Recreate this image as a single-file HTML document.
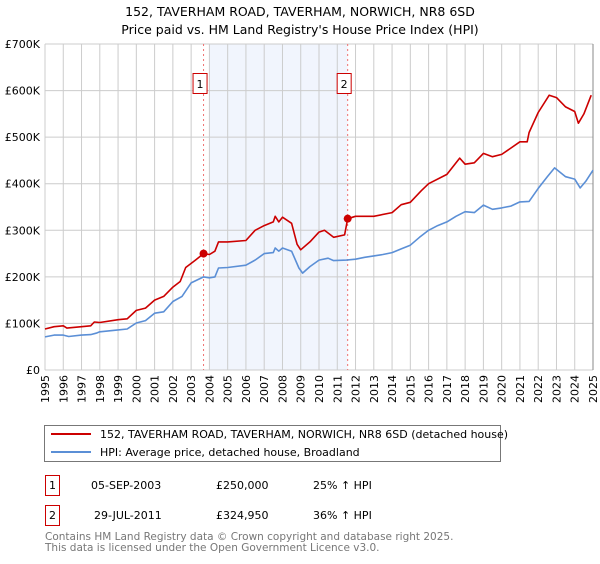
<!DOCTYPE html>
<html><head><meta charset="utf-8"><style>
body{margin:0;background:#fff;width:600px;height:560px;overflow:hidden;font-family:"DejaVu Sans","Liberation Sans",sans-serif;}
</style></head><body>
<svg id="c" width="600" height="560" xmlns="http://www.w3.org/2000/svg" style="font-family:'DejaVu Sans','Liberation Sans',sans-serif">
<text x="300" y="16" font-size="12.5" text-anchor="middle">152, TAVERHAM ROAD, TAVERHAM, NORWICH, NR8 6SD</text>
<text x="300" y="34" font-size="12.5" text-anchor="middle">Price paid vs. HM Land Registry's House Price Index (HPI)</text>
<g id="plot"></g>
<rect x="44.5" y="425.5" width="456" height="36" fill="#fff" stroke="#777"/>
<line x1="51" y1="434" x2="91" y2="434" stroke="#cc0000" stroke-width="2"/>
<text x="100" y="438" font-size="11">152, TAVERHAM ROAD, TAVERHAM, NORWICH, NR8 6SD (detached house)</text>
<line x1="51" y1="452" x2="91" y2="452" stroke="#5b8fd6" stroke-width="2"/>
<text x="100" y="456" font-size="11">HPI: Average price, detached house, Broadland</text>
<g font-size="11">
<rect x="45.5" y="475.5" width="14" height="20" fill="#fff" stroke="#cc0000"/>
<text x="52.5" y="489" text-anchor="middle">1</text>
<text x="91" y="489">05-SEP-2003</text>
<text x="216" y="489">£250,000</text>
<text x="313" y="489">25% ↑ HPI</text>
<rect x="45.5" y="505.5" width="14" height="20" fill="#fff" stroke="#cc0000"/>
<text x="52.5" y="519" text-anchor="middle">2</text>
<text x="94" y="519">29-JUL-2011</text>
<text x="216" y="519">£324,950</text>
<text x="313" y="519">36% ↑ HPI</text>
</g>
<text x="45" y="540" font-size="10.5" fill="#777">Contains HM Land Registry data © Crown copyright and database right 2025.</text>
<text x="45" y="551" font-size="10.5" fill="#777">This data is licensed under the Open Government Licence v3.0.</text>
</svg>
<script>
const yTicks=[0,100000,200000,300000,400000,500000,600000,700000];
const yTickLabels=["£0","£100K","£200K","£300K","£400K","£500K","£600K","£700K"];
const years=[1995,1996,1997,1998,1999,2000,2001,2002,2003,2004,2005,2006,2007,2008,2009,2010,2011,2012,2013,2014,2015,2016,2017,2018,2019,2020,2021,2022,2023,2024,2025];
const hpiT=[1995,1995.5,1996,1996.3,1997,1997.5,1997.8,1998,1999,1999.5,2000,2000.5,2001,2001.5,2002,2002.5,2003,2003.68,2004,2004.3,2004.5,2005,2006,2006.5,2007,2007.5,2007.6,2007.8,2008,2008.5,2008.9,2009.1,2009.5,2010,2010.5,2010.8,2011.5,2012,2012.5,2013,2013.5,2014,2014.5,2015,2015.5,2016,2016.5,2017,2017.5,2018,2018.5,2019,2019.5,2020,2020.5,2021,2021.5,2022,2022.5,2022.9,2023.5,2024,2024.3,2024.6,2025];
const hpiV=[71000,75000,75000,72000,75000,76000,79000,82000,86000,88000,101000,106000,122000,125000,147000,158000,187000,200000,198000,200000,219000,220000,225000,236000,250000,252000,262000,255000,262000,255000,219000,208000,222000,236000,240000,235000,236000,238000,242000,245000,248000,252000,260000,268000,285000,300000,310000,318000,330000,340000,338000,354000,345000,348000,352000,361000,362000,390000,415000,434000,415000,410000,391000,405000,429000];
const priceT=[1995,1995.5,1996,1996.2,1997,1997.5,1997.7,1998,1999,1999.5,2000,2000.5,2001,2001.5,2002,2002.4,2002.7,2003.2,2003.68,2004,2004.3,2004.5,2005,2006,2006.5,2007,2007.5,2007.6,2007.8,2008,2008.5,2008.8,2009,2009.5,2010,2010.3,2010.8,2011.4,2011.57,2012,2013,2014,2014.5,2015,2015.6,2016,2017,2017.7,2018,2018.5,2019,2019.5,2020,2021,2021.4,2021.5,2022,2022.6,2023,2023.5,2024,2024.2,2024.5,2024.9];
const priceV=[88000,93000,95000,90000,93000,95000,103000,102000,108000,110000,128000,133000,150000,158000,178000,190000,220000,235000,250000,248000,255000,275000,275000,278000,300000,310000,318000,330000,318000,328000,315000,270000,258000,275000,296000,300000,285000,290000,324950,330000,330000,338000,355000,360000,385000,400000,420000,455000,442000,445000,465000,458000,463000,490000,490000,510000,553000,590000,585000,565000,555000,530000,550000,590000];
const sales=[[2003.68,250000],[2011.57,324950]];
const X0=45,X1=593,Y0=370,Y1=44;
const xs=t=>X0+(t-1995)/30*(X1-X0);
const ys=v=>Y0-v/700000*(Y0-Y1);
const NS="http://www.w3.org/2000/svg";
const g=document.getElementById('plot');
function mk(tag,attrs){const e=document.createElementNS(NS,tag);for(const k in attrs)e.setAttribute(k,attrs[k]);g.appendChild(e);return e;}
let e=mk('rect',{x:xs(2004),y:Y1,width:xs(sales[1][0])-xs(2004),height:Y0-Y1,fill:'#eef3fd',opacity:0.8});


years.forEach(y=>{const l=mk('line',{x1:xs(y),x2:xs(y),y1:Y1,y2:Y0,stroke:'#ccc'});


const t=mk('text',{x:0,y:0,'font-size':11,'text-anchor':'end',transform:`translate(${xs(y)+4},${Y0+5}) rotate(-90)`});t.textContent=y;

});
yTicks.forEach((v,i)=>{const l=mk('line',{x1:X0,x2:X1,y1:ys(v),y2:ys(v),stroke:'#ccc'});


const t=mk('text',{x:X0-5,y:ys(v)+4,'font-size':11,'text-anchor':'end'});t.textContent=yTickLabels[i];

});
e=mk('line',{x1:X1,x2:X1,y1:Y1,y2:Y0,stroke:'#888'});


sales.forEach((s,i)=>{const l=mk('line',{x1:xs(s[0]),x2:xs(s[0]),y1:Y1,y2:Y0,stroke:'#f07070','stroke-dasharray':'2,3'});


const r=mk('rect',{x:xs(s[0])-10.5,y:73.5,width:14,height:20,fill:'#fff',stroke:'#cc0000'});


const t=mk('text',{x:xs(s[0])-3.5,y:88,'font-size':11,'text-anchor':'middle'});t.textContent=i+1;

});
function path(T,V,col,name){const p=mk('path',{d:T.map((t,i)=>(i?'L':'M')+xs(t).toFixed(1)+','+ys(V[i]).toFixed(1)).join(''),fill:'none',stroke:col,'stroke-width':1.6,'stroke-linejoin':'round'});

}
path(hpiT,hpiV,'#5b8fd6','hpi-line');
path(priceT,priceV,'#cc0000','price-paid-line');
sales.forEach(s=>{const c=mk('circle',{cx:xs(s[0]),cy:ys(s[1]),r:4,fill:'#cc0000'});

});
</script>
</body></html>
